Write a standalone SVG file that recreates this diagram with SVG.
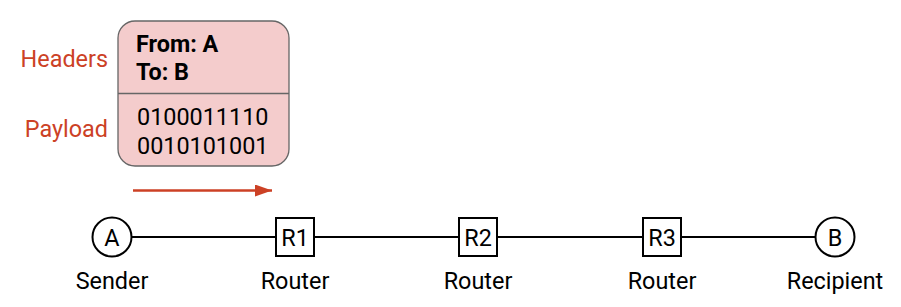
<svg xmlns="http://www.w3.org/2000/svg" width="901" height="307" viewBox="0 0 901 307">
<style>
text{font-family:Roboto,"Liberation Sans",sans-serif;font-size:23.4px;fill:#000}
.lbl{fill:#cc4125;text-anchor:end}
.c{text-anchor:middle}
.b{font-weight:bold}
.node{fill:#fff;stroke:#000;stroke-width:2}
.link{stroke:#000;stroke-width:2;fill:none}
</style>
<defs>
<marker id="ah" markerWidth="17" markerHeight="12" refX="17" refY="6" orient="auto" markerUnits="userSpaceOnUse">
<path d="M0,0 L17,6 L0,12 Z" fill="#cc4125"/>
</marker>
</defs>
<g id="packet">
<rect x="118" y="21" width="171" height="145" rx="17" fill="#f4cccc" stroke="#666" stroke-width="1.3"/>
<line x1="118" y1="93.5" x2="289" y2="93.5" stroke="#666" stroke-width="1.3"/>
<text class="b" x="136" y="52">From: A</text>
<text class="b" x="136" y="80">To: B</text>
<text x="137" y="125">0100011110</text>
<text x="137" y="154">0010101001</text>
<text class="lbl" x="108" y="67">Headers</text>
<text class="lbl" x="108" y="137">Payload</text>
</g>
<g id="connectors">
<line class="link" x1="131" y1="237" x2="815" y2="237"/>
<line x1="133" y1="190.5" x2="272" y2="190.5" stroke="#cc4125" stroke-width="2.5" marker-end="url(#ah)"/>
</g>
<g id="A">
<circle class="node" cx="112" cy="237" r="19.5"/>
<text class="c" x="112" y="245.5">A</text>
<text class="c" x="112" y="289">Sender</text>
</g>
<g id="R1">
<rect class="node" x="276" y="218" width="38" height="38"/>
<text class="c" x="295" y="245.5">R1</text>
<text class="c" x="295" y="289">Router</text>
</g>
<g id="R2">
<rect class="node" x="459" y="218" width="38" height="38"/>
<text class="c" x="478" y="245.5">R2</text>
<text class="c" x="478" y="289">Router</text>
</g>
<g id="R3">
<rect class="node" x="643" y="218" width="38" height="38"/>
<text class="c" x="662" y="245.5">R3</text>
<text class="c" x="662" y="289">Router</text>
</g>
<g id="B">
<circle class="node" cx="835" cy="237" r="19.5"/>
<text class="c" x="835" y="245.5">B</text>
<text class="c" x="835" y="289">Recipient</text>
</g>
</svg>
